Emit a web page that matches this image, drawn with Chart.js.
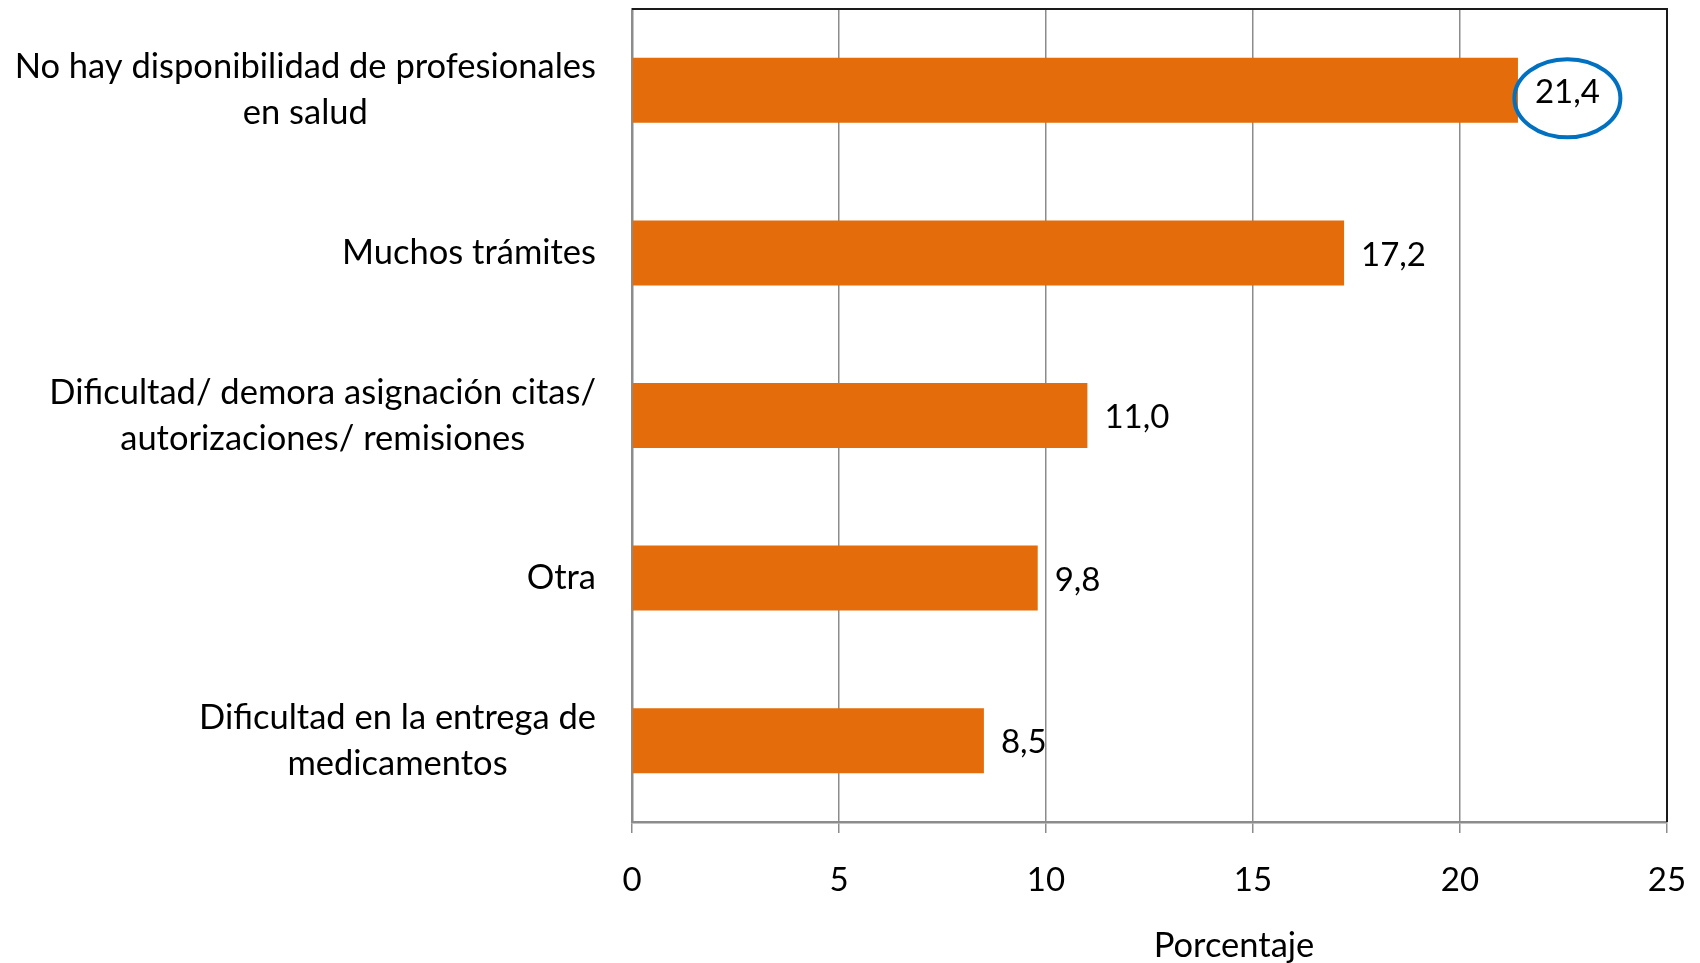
<!doctype html>
<html lang="es">
<head>
	<meta charset="UTF-8">
	<title>Barreras de acceso</title>
	<script src="https://cdn.jsdelivr.net/npm/chart.js@4/dist/chart.umd.min.js"></script>
	<style>
		body { margin:0; background:#fff; }
		#holder { width:1700px; height:963px; }
	</style>
</head>
<body>
	<div id="holder">
		<canvas id="chart-area" width="1700" height="963"></canvas>
	</div>
	<script>
		// datos
		var categorias = [
			["No hay disponibilidad de profesionales", "en salud"],
			["Muchos trámites"],
			["Dificultad/ demora asignación citas/", "autorizaciones/ remisiones"],
			["Otra"],
			["Dificultad en la entrega de", "medicamentos"]
		];
		var porcentajes = [21.4, 17.2, 11.0, 9.8, 8.5];
		var ejeMin = 0;
		var ejeMax = 25;
		var ejePaso = 5;
		var tituloEje = "Porcentaje";

		var fuente = "Lato, 'Open Sans', sans-serif";
		var naranja = "#E46C0A";
		var gris = "#8c8c8c";

		// etiquetas de categoria, valores, circulo y bordes
		var dibujos = {
			id: 'dibujos',
			afterDraw: function(chart) {
				var ctx = chart.ctx;
				var area = chart.chartArea;
				var y = chart.scales.y;
				ctx.save();

				// borde superior y derecho
				ctx.strokeStyle = "#1a1a1a";
				ctx.lineWidth = 2;
				ctx.beginPath();
				ctx.moveTo(area.left, area.top);
				ctx.lineTo(area.right, area.top);
				ctx.lineTo(area.right, area.bottom);
				ctx.stroke();

				ctx.fillStyle = "#000";
				ctx.font = "34.5px " + fuente;
				ctx.textBaseline = "middle";

				// categorias: bloque alineado a la derecha, lineas centradas
				var derecha = area.left - 36;
				var alto = 46;
				for (var i = 0; i < categorias.length; i++) {
					var lineas = categorias[i];
					var ancho = 0;
					for (var j = 0; j < lineas.length; j++) {
						ancho = Math.max(ancho, ctx.measureText(lineas[j]).width);
					}
					var cy = y.getPixelForTick(i);
					var y0 = cy - (lineas.length - 1) * alto / 2;
					ctx.textAlign = "center";
					for (var j = 0; j < lineas.length; j++) {
						ctx.fillText(lineas[j], derecha - ancho / 2, y0 + j * alto);
					}
				}

				// valores al final de cada barra
				ctx.font = "33px " + fuente;
				var meta = chart.getDatasetMeta(0);
				var maxI = porcentajes.indexOf(Math.max.apply(null, porcentajes));
				ctx.textAlign = "left";
				for (var i = 0; i < meta.data.length; i++) {
					var barra = meta.data[i];
					var txt = porcentajes[i].toFixed(1).replace('.', ',');
					var tx = barra.x + 17;
					ctx.fillText(txt, tx, barra.y + 2);
					if (i === maxI) {
						var w = ctx.measureText(txt).width;
						ctx.strokeStyle = "#0070C0";
						ctx.lineWidth = 4;
						ctx.beginPath();
						ctx.ellipse(tx + w / 2, barra.y + 8, 53, 39, 0, 0, Math.PI * 2);
						ctx.stroke();
					}
				}

				// titulo del eje
				ctx.font = "34.5px " + fuente;
				ctx.textAlign = "center";
				ctx.fillText(tituloEje, 1234, 946);
				ctx.restore();
			}
		};

		var config = {
			type: 'bar',
			data: {
				labels: categorias,
				datasets: [{
					data: porcentajes,
					backgroundColor: naranja,
					borderWidth: 0,
					barPercentage: 0.4,
					categoryPercentage: 1.0
				}]
			},
			options: {
				indexAxis: 'y',
				responsive: false,
				animation: false,
				layout: {
					padding: { left: 632, right: 33, top: 9, bottom: 0 }
				},
				plugins: {
					legend: { display: false },
					tooltip: { enabled: false }
				},
				scales: {
					x: {
						min: ejeMin,
						max: ejeMax,
						ticks: {
							stepSize: ejePaso,
							color: "#000",
							padding: 28,
							font: { family: fuente, size: 33 }
						},
						grid: {
							color: gris,
							lineWidth: 1.5,
							tickLength: 11
						},
						border: { color: gris, width: 2.5 },
						afterFit: function(s) {
							s.height = 141;
							s.paddingLeft = 0;
							s.paddingRight = 0;
						}
					},
					y: {
						ticks: { display: false },
						grid: { display: false },
						border: { color: gris, width: 2.5 },
						afterFit: function(s) { s.width = 0; }
					}
				}
			},
			plugins: [dibujos]
		};

		window.onload = function() {
			var ctx = document.getElementById('chart-area').getContext('2d');
			window.myBar = new Chart(ctx, config);
		};
	</script>
</body>
</html>
